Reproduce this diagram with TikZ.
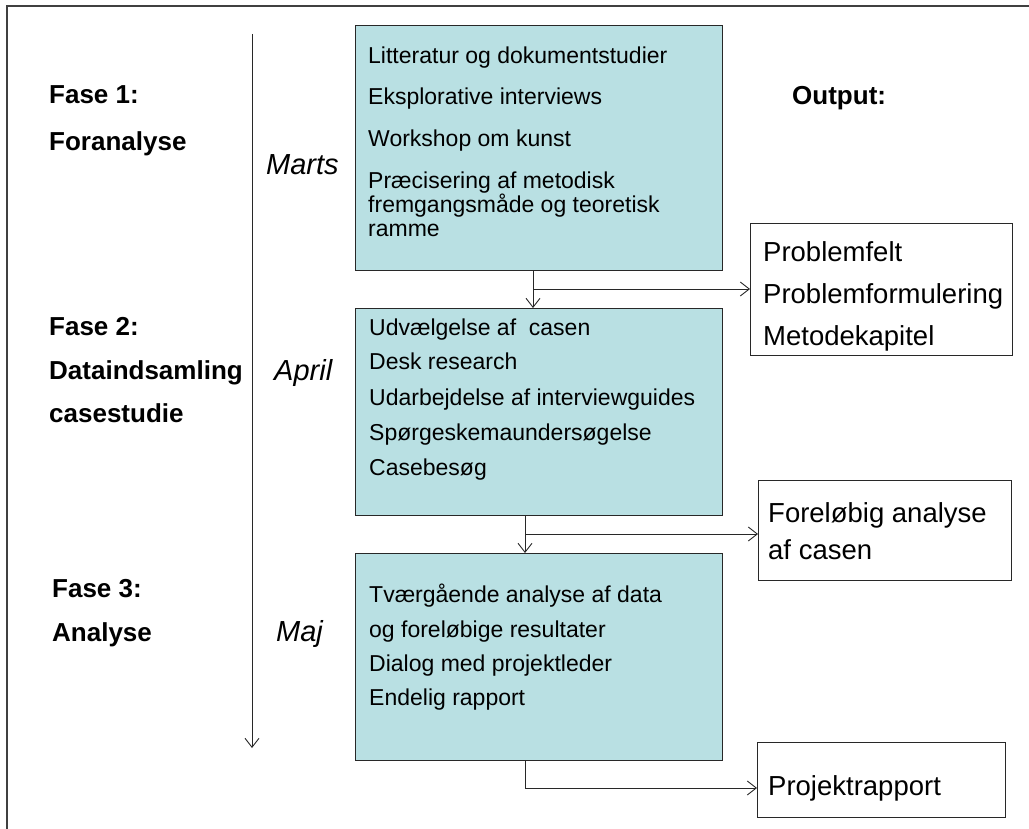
\documentclass[tikz,border=0pt]{standalone}
\usepackage{fontspec}
\setmainfont{Liberation Sans}
\usetikzlibrary{arrows.meta,calc}
\definecolor{boxfill}{RGB}{185,224,227}
\definecolor{edge}{RGB}{40,40,40}
\begin{document}
\begin{tikzpicture}[x=1pt,y=-1pt,
  phasebox/.style={draw=edge,line width=1pt,fill=boxfill,anchor=north west,inner sep=0pt},
  outbox/.style={draw=edge,line width=1pt,fill=white,anchor=north west,inner sep=0pt},
  item/.style={anchor=base west,inner sep=0pt,font=\fontsize{23}{27}\selectfont},
  outitem/.style={anchor=base west,inner sep=0pt,font=\fontsize{27.5}{32}\selectfont},
  phase/.style={anchor=base west,inner sep=0pt,font=\fontsize{26}{30}\selectfont\bfseries},
  month/.style={anchor=base west,inner sep=0pt,font=\fontsize{29}{33}\selectfont\itshape},
  link/.style={draw=edge,line width=0.9pt,-{Straight Barb[length=9pt,width=14pt,line width=0.9pt]}},
  plain/.style={draw=edge,line width=0.9pt}]
\useasboundingbox (0,0) rectangle (1029,829);

% outer frame (top and left edges)
\draw[black!75,line width=1.6pt] (7,829) -- (7,6) -- (1029,6);

% time axis
\coordinate (t0) at (252,34);
\coordinate (t1) at (252,748);
\draw[link] (t0) -- (t1);

% phase labels
\node[phase] (f1a) at (49,104) {Fase 1:};
\node[phase] (f1b) at (49,151) {Foranalyse};
\node[phase] (f2a) at (49,336) {Fase 2:};
\node[phase] (f2b) at (49,379) {Dataindsamling};
\node[phase] (f2c) at (49,422) {casestudie};
\node[phase] (f3a) at (52,597) {Fase 3:};
\node[phase] (f3b) at (52,641) {Analyse};
\node[phase] (outhead) at (792,105) {Output:};

% months
\node[month] (m1) at (266,175) {Marts};
\node[month] (m2) at (274,380) {April};
\node[month] (m3) at (276,641) {Maj};

% phase boxes
\node[phasebox,minimum width=367pt,minimum height=245pt] (b1) at (355,25) {};
\node[phasebox,minimum width=367pt,minimum height=207pt] (b2) at (355,308) {};
\node[phasebox,minimum width=367pt,minimum height=207pt] (b3) at (355,553) {};

\node[item] (b1l1) at (368,64) {Litteratur og dokumentstudier};
\node[item] (b1l2) at (368,105) {Eksplorative interviews};
\node[item] (b1l3) at (368,147) {Workshop om kunst};
\node[item] (b1l4) at (368,189) {Præcisering af metodisk};
\node[item] (b1l5) at (368,213) {fremgangsmåde og teoretisk};
\node[item] (b1l6) at (368,237) {ramme};

\node[item] (b2l1) at (369,335) {Udvælgelse af\ \ casen};
\node[item] (b2l2) at (369,370) {Desk research};
\node[item] (b2l3) at (369,405) {Udarbejdelse af interviewguides};
\node[item] (b2l4) at (369,440) {Spørgeskemaundersøgelse};
\node[item] (b2l5) at (369,475) {Casebesøg};

\node[item] (b3l1) at (369,602) {Tværgående analyse af data};
\node[item] (b3l2) at (369,637) {og foreløbige resultater};
\node[item] (b3l3) at (369,671) {Dialog med projektleder};
\node[item] (b3l4) at (369,705) {Endelig rapport};

% output boxes
\node[outbox,minimum width=262pt,minimum height=132pt] (o1) at (750,223) {};
\node[outbox,minimum width=253pt,minimum height=100pt] (o2) at (758,480) {};
\node[outbox,minimum width=248pt,minimum height=75pt] (o3) at (757,742) {};

\node[outitem] (o1l1) at (763,262) {Problemfelt};
\node[outitem] (o1l2) at (763,304) {Problemformulering};
\node[outitem] (o1l3) at (763,345) {Metodekapitel};
\node[outitem] (o2l1) at (768,522) {Foreløbig analyse};
\node[outitem] (o2l2) at (768,559) {af casen};
\node[outitem] (o3l1) at (768,795) {Projektrapport};

% connectors
\coordinate (j1) at (533,289);
\coordinate (j2) at (525,534);
\coordinate (j3) at (525,788);
\draw[link] (b1.south -| j1) -- (b2.north -| j1);
\draw[link] (j1) -- (j1 -| o1.west);
\draw[link] (b2.south -| j2) -- (b3.north -| j2);
\draw[link] (j2) -- (j2 -| o2.west);
\draw[plain] (b3.south -| j3) -- (j3);
\draw[link] (j3) -- (j3 -| o3.west);
\end{tikzpicture}
\end{document}
